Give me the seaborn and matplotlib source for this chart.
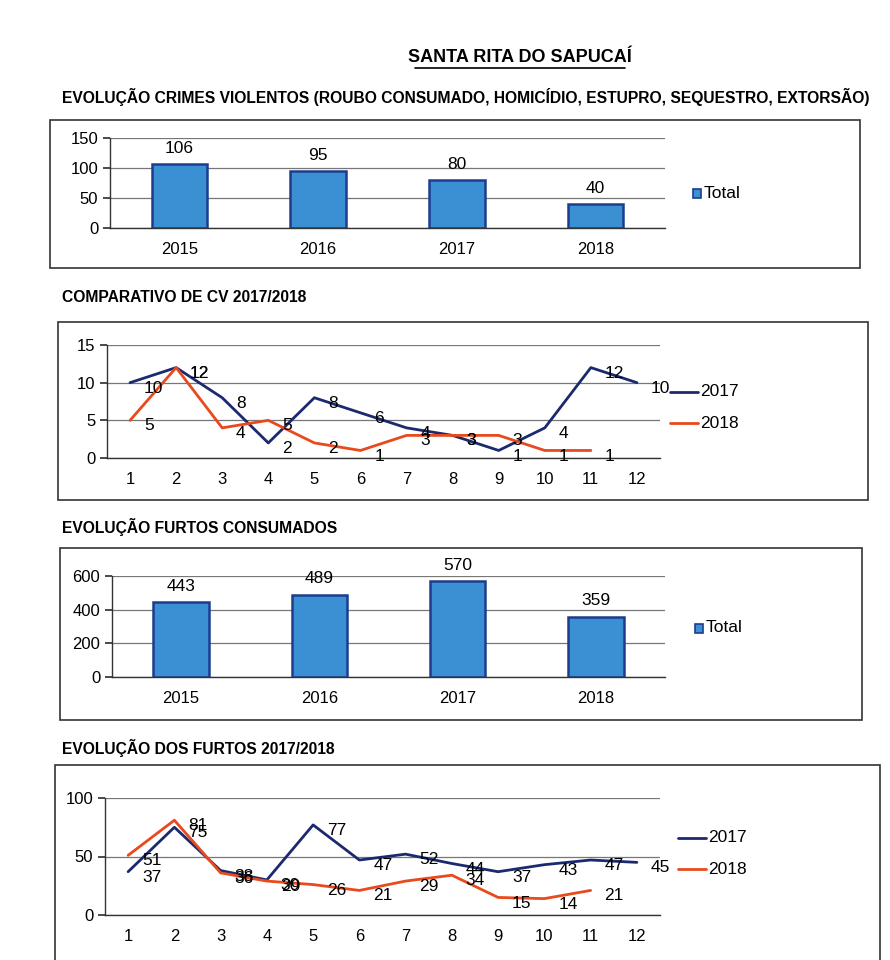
import matplotlib
matplotlib.use("Agg")
import matplotlib.pyplot as plt
import matplotlib.patches as mpatches
from matplotlib.ticker import FixedLocator
import seaborn as sns
import pandas as pd
import numpy as np

sns.set_theme(style="white")
plt.rcParams['font.family'] = ['Liberation Sans', 'DejaVu Sans']
plt.rcParams['text.color'] = 'black'
plt.rcParams['xtick.color'] = 'black'
plt.rcParams['ytick.color'] = 'black'

# ---------------- data ----------------
years = ["2015", "2016", "2017", "2018"]
cv_totals = [106, 95, 80, 40]
furtos_totals = [443, 489, 570, 359]
months = [str(m) for m in range(1, 13)]
cv_2017 = [10, 12, 8, 2, 8, 6, 4, 3, 1, 4, 12, 10]
cv_2018 = [5, 12, 4, 5, 2, 1, 3, 3, 3, 1, 1]
furtos_2017 = [37, 75, 38, 30, 77, 47, 52, 44, 37, 43, 47, 45]
furtos_2018 = [51, 81, 36, 29, 26, 21, 29, 34, 15, 14, 21]

title_main = "SANTA RITA DO SAPUCAÍ"
titles = ["EVOLUÇÃO CRIMES VIOLENTOS (ROUBO CONSUMADO, HOMICÍDIO, ESTUPRO, SEQUESTRO, EXTORSÃO)",
          "COMPARATIVO DE CV 2017/2018",
          "EVOLUÇÃO FURTOS CONSUMADOS",
          "EVOLUÇÃO DOS FURTOS 2017/2018"]

W, H = 890, 960
fig = plt.figure(figsize=(W / 100, H / 100), dpi=100)
fig.patch.set_facecolor("white")

BAR_FACE = "#3b8fd3"
BAR_EDGE = "#1d3d8c"
C17 = "#1b2a6e"
C18 = "#e84a1e"


def rect(x0, y0, x1, y1):
    return [x0 / W, 1 - y1 / H, (x1 - x0) / W, (y1 - y0) / H]


def box(x0, y0, x1, y1):
    fig.patches.append(mpatches.Rectangle((x0 / W, 1 - y1 / H), (x1 - x0) / W, (y1 - y0) / H,
                                          transform=fig.transFigure, fill=False,
                                          edgecolor="#333333", linewidth=1.2))


def ftext(x, y, s, **kw):
    return fig.text(x / W, 1 - y / H, s, **kw)


def style_axes(ax, yticks, ymax, ncat):
    ax.set_ylim(0, ymax)
    ax.set_yticks(yticks)
    ax.set_xlim(-0.5, ncat - 0.5)
    ax.xaxis.set_minor_locator(FixedLocator(np.arange(-0.5, ncat, 1.0)))
    ax.tick_params(axis="x", which="major", length=0, labelsize=12, pad=10)
    ax.tick_params(axis="x", which="minor", length=5, direction="out", color="#333333")
    ax.tick_params(axis="y", which="major", length=5, direction="out", color="#333333",
                   labelsize=12, left=True)
    ax.grid(axis="y", color="#777777", linewidth=0.9)
    ax.set_axisbelow(True)
    for s in ["top", "right"]:
        ax.spines[s].set_visible(False)
    for s in ["left", "bottom"]:
        ax.spines[s].set_color("#333333")
        ax.spines[s].set_linewidth(1.0)
    ax.set_xlabel("")
    ax.set_ylabel("")
    ax.set_facecolor("white")


def bar_chart(axrect, values, ymax, yticks, fmt_off, legend_xy):
    ax = fig.add_axes(rect(*axrect))
    df = pd.DataFrame({"ano": years, "Total": values})
    sns.barplot(data=df, x="ano", y="Total", color=BAR_FACE, width=0.4,
                edgecolor=BAR_EDGE, linewidth=1.8, saturation=1, ax=ax)
    style_axes(ax, yticks, ymax, len(years))
    for i, v in enumerate(values):
        ax.annotate(str(v), (i, v), xytext=(0, fmt_off), textcoords="offset points",
                    ha="center", va="bottom", fontsize=12.5)
    lx, ly = legend_xy
    fig.patches.append(mpatches.Rectangle(((lx) / W, 1 - (ly + 5) / H), 8 / W, 9 / H,
                                          transform=fig.transFigure, facecolor=BAR_FACE,
                                          edgecolor=BAR_EDGE, linewidth=1.2))
    ftext(lx + 11, ly, "Total", fontsize=12.5, va="center", ha="left")
    return ax


def line_chart(axrect, v17, v18, ymax, yticks, legend_xy):
    ax = fig.add_axes(rect(*axrect))
    x17 = np.arange(len(v17))
    x18 = np.arange(len(v18))
    sns.lineplot(x=x17, y=v17, color=C17, linewidth=2.0, ax=ax)
    sns.lineplot(x=x18, y=v18, color=C18, linewidth=2.0, ax=ax)
    ax.set_xticks(range(12))
    ax.set_xticklabels(months)
    style_axes(ax, yticks, ymax, 12)
    for i, v in enumerate(v17):
        ax.annotate(str(v), (i, v), xytext=(10, -4), textcoords="offset points",
                    ha="left", va="center", fontsize=12.5)
    for i, v in enumerate(v18):
        ax.annotate(str(v), (i, v), xytext=(10, -4), textcoords="offset points",
                    ha="left", va="center", fontsize=12.5)
    lx, ly = legend_xy
    fig.add_artist(plt.Line2D([lx / W, (lx + 28) / W], [1 - ly / H, 1 - ly / H],
                              transform=fig.transFigure, color=C17, linewidth=2))
    ftext(lx + 30, ly, "2017", fontsize=12.5, va="center", ha="left")
    fig.add_artist(plt.Line2D([lx / W, (lx + 28) / W], [1 - (ly + 31) / H, 1 - (ly + 31) / H],
                              transform=fig.transFigure, color=C18, linewidth=2))
    ftext(lx + 30, ly + 31, "2018", fontsize=12.5, va="center", ha="left")
    return ax


# main title
ftext(520, 58, title_main, fontsize=13, fontweight="bold", ha="center", va="center")
fig.add_artist(plt.Line2D([415 / W, 625 / W], [1 - 68 / H, 1 - 68 / H],
                          transform=fig.transFigure, color="black", linewidth=1.2))

# section titles; size the long one to span the reference width
t0 = ftext(62, 97, titles[0], fontsize=13.5, fontweight="bold", va="center", ha="left")
fig.canvas.draw()
w0 = t0.get_window_extent().width
size = 13.5 * 806 / w0
t0.set_fontsize(size)
ftext(62, 298, titles[1], fontsize=size, fontweight="bold", va="center", ha="left")
ftext(62, 527, titles[2], fontsize=size, fontweight="bold", va="center", ha="left")
ftext(62, 748, titles[3], fontsize=size, fontweight="bold", va="center", ha="left")

# chart 1
box(50, 120, 860, 268)
bar_chart((110, 138, 665, 228), cv_totals, 150, [0, 50, 100, 150], 6, (693, 193))

# chart 2
box(58, 322, 868, 500)
line_chart((107, 345, 660, 458), cv_2017, cv_2018, 15, [0, 5, 10, 15], (670, 392))

# chart 3
box(60, 548, 862, 720)
bar_chart((112, 576, 665, 677), furtos_totals, 600, [0, 200, 400, 600], 6, (695, 628))

# chart 4
box(55, 765, 880, 975)
line_chart((105, 798, 660, 915), furtos_2017, furtos_2018, 100, [0, 50, 100], (678, 838))

fig.savefig("out.png", dpi=100, facecolor="white")
